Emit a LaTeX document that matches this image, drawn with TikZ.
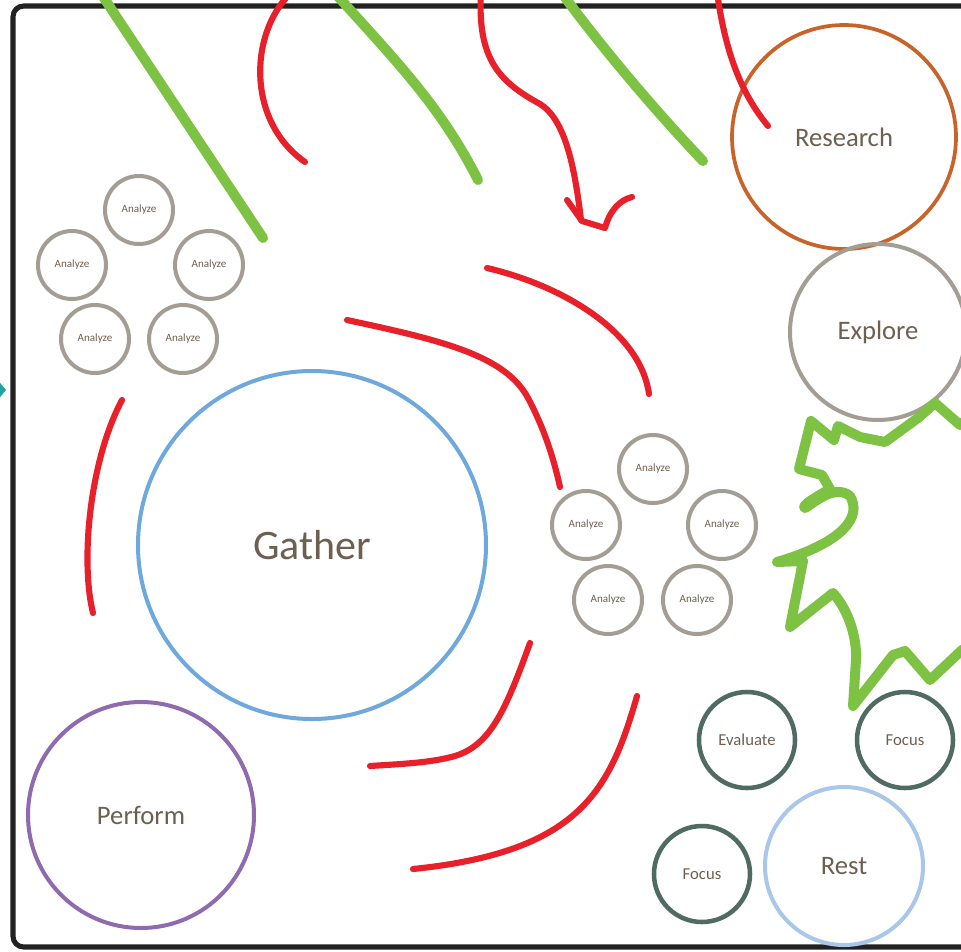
\documentclass[tikz,border=0pt]{standalone}
\usepackage{fontspec}
\setmainfont{Carlito}
\definecolor{framec}{HTML}{222222}
\definecolor{greenc}{HTML}{7DC242}
\definecolor{redc}{HTML}{E8202A}
\definecolor{researchc}{HTML}{C8642A}
\definecolor{greyc}{HTML}{A39D94}
\definecolor{gatherc}{HTML}{6EA8DC}
\definecolor{performc}{HTML}{8F6AAF}
\definecolor{restc}{HTML}{A9C7E8}
\definecolor{darkc}{HTML}{4F6B64}
\definecolor{textc}{HTML}{6E6050}
\definecolor{tealc}{HTML}{21A3A3}
\tikzset{
  bubble/.style={circle, draw, inner sep=0pt, text=textc},
  bigtxt/.style={font=\fontsize{20}{20}\selectfont},
  midtxt/.style={font=\fontsize{12.5}{13}\selectfont},
  smalltxt/.style={font=\fontsize{8.3}{9}\selectfont},
  analyzebox/.style={bubble, draw=greyc, line width=3pt, minimum size=51pt, smalltxt},
  darkbox/.style={bubble, draw=darkc, line width=3.4pt, minimum size=72pt, midtxt},
  greenstroke/.style={draw=greenc, line width=7.5pt, line cap=round, line join=round},
  redstroke/.style={draw=redc, line width=4.6pt, line cap=round, line join=round},
}
\begin{document}
\begin{tikzpicture}[x=0.75pt,y=-0.75pt]
\useasboundingbox (0,0) rectangle (961,951);
\clip (0,0) rectangle (961,951);
\fill[white] (0,0) rectangle (961,951);
% frame
\draw[framec, line width=3.8pt, rounded corners=8pt] (990,6) -- (13,6) -- (13,947) -- (990,947);
% teal arrow tip at left
\fill[tealc] (-4,378) -- (6,390) -- (-4,402) -- cycle;

% big circles
\node[bubble, draw=researchc, line width=2.8pt, minimum size=168pt, bigtxt] (research) at (844,137) {Research};
\node[bubble, draw=greyc, line width=3pt, minimum size=132pt, bigtxt] (explore) at (878,332) {Explore};
\node[bubble, draw=gatherc, line width=3pt, minimum size=261pt, font=\fontsize{31.5}{32}\selectfont] (gather) at (312,545) {Gather};
\node[bubble, draw=performc, line width=3pt, minimum size=169.5pt, bigtxt] (perform) at (141,815) {Perform};
\node[bubble, draw=restc, line width=3pt, minimum size=118.5pt, bigtxt] (rest) at (844,866) {Rest};
\node[darkbox] (evaluate) at (747,740) {Evaluate};
\node[darkbox] (focusa) at (905,740) {Focus};
\node[darkbox] (focusb) at (702,874) {Focus};

% analyze group left
\node[analyzebox] (al1) at (139,210) {Analyze};
\node[analyzebox] (al2) at (72,265) {Analyze};
\node[analyzebox] (al3) at (209,265) {Analyze};
\node[analyzebox] (al4) at (95,339) {Analyze};
\node[analyzebox] (al5) at (183,339) {Analyze};
% analyze group right
\node[analyzebox] (ar1) at (653,469) {Analyze};
\node[analyzebox] (ar2) at (586,525) {Analyze};
\node[analyzebox] (ar3) at (722,525) {Analyze};
\node[analyzebox] (ar4) at (608,600) {Analyze};
\node[analyzebox] (ar5) at (697,600) {Analyze};

% green strokes
\draw[greenstroke] (100,-8) -- (263,238);
\draw[greenstroke] (334,-8) .. controls (395,60) and (440,105) .. (478,180);
\draw[greenstroke] (561,-8) .. controls (600,45) and (650,105) .. (703,161);
\draw[greenstroke] (975,412) -- (960,425) -- (935,403) -- (918,418) -- (885,442) -- (860,437) -- (838,426) -- (834,440) -- (811,421) -- (799,469) -- (822,475) -- (830,489)
  .. controls (818,496) and (800,506) .. (805,508)
  .. controls (815,502) and (835,484) .. (850,496)
  .. controls (862,516) and (845,542) .. (777,562)
  -- (803,561) -- (790,627) -- (833,593)
  .. controls (850,612) and (857,640) .. (856,660) -- (853,706) -- (893,655) -- (905,651) -- (930,680) -- (962,650) -- (975,645);

% red strokes
\draw[redstroke] (292,-8) .. controls (250,30) and (245,120) .. (305,162);
\draw[redstroke] (481,-8) .. controls (477,60) and (500,82) .. (540,104)
  .. controls (566,120) and (575,170) .. (581,220);
\draw[redstroke] (567,200) -- (582,221) -- (605,228) .. controls (610,210) and (620,200) .. (632,197);
\draw[redstroke] (717,-8) .. controls (725,50) and (740,92) .. (768,126);
\draw[redstroke] (347,320) .. controls (440,340) and (505,355) .. (528,398)
  .. controls (545,430) and (554,460) .. (560,487);
\draw[redstroke] (487,268) .. controls (560,285) and (640,330) .. (649,394);
\draw[redstroke] (122,400) .. controls (90,460) and (80,560) .. (93,613);
\draw[redstroke] (530,643) .. controls (505,712) and (490,745) .. (455,756)
  .. controls (430,763) and (400,764) .. (370,766);
\draw[redstroke] (637,696) .. controls (610,790) and (580,852) .. (413,869);
\end{tikzpicture}
\end{document}
